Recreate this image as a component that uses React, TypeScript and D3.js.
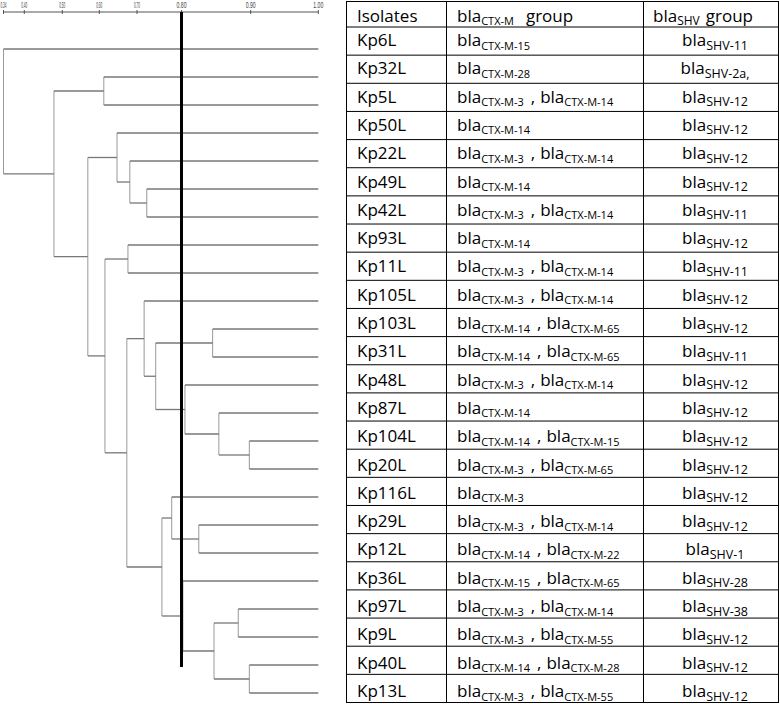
import React from "react";
import * as d3 from "d3";

const isolates = [
  "Kp6L", "Kp32L", "Kp5L", "Kp50L", "Kp22L", "Kp49L", "Kp42L", "Kp93L",
  "Kp11L", "Kp105L", "Kp103L", "Kp31L", "Kp48L", "Kp87L", "Kp104L", "Kp20L",
  "Kp116L", "Kp29L", "Kp12L", "Kp36L", "Kp97L", "Kp9L", "Kp40L", "Kp13L",
];

const ctxGroup: string[][] = [
  ["15"], ["28"], ["3", "14"], ["14"], ["3", "14"], ["14"], ["3", "14"], ["14"],
  ["3", "14"], ["3", "14"], ["14", "65"], ["14", "65"], ["3", "14"], ["14"], ["14", "15"], ["3", "65"],
  ["3"], ["3", "14"], ["14", "22"], ["15", "65"], ["3", "14"], ["3", "55"], ["14", "28"], ["3", "55"],
];

const shvGroup = [
  "11", "2a,", "12", "12", "12", "12", "11", "12",
  "11", "12", "12", "11", "12", "12", "12", "12",
  "12", "12", "1", "28", "38", "12", "12", "12",
];

// [node id, upper child, lower child, similarity coefficient]
const clusterNodes: [string, string, string, number][] = [
  ["root", "Kp6L", "A", 0.34],
  ["A", "B", "C", 0.478],
  ["B", "Kp32L", "Kp5L", 0.612],
  ["C", "D", "H", 0.569],
  ["D", "Kp50L", "E", 0.647],
  ["E", "Kp22L", "F", 0.681],
  ["F", "Kp49L", "Kp42L", 0.722],
  ["H", "G", "I", 0.615],
  ["G", "Kp93L", "Kp11L", 0.676],
  ["I", "J", "P", 0.673],
  ["J", "Kp105L", "K", 0.716],
  ["K", "L", "M", 0.742],
  ["L", "Kp103L", "Kp31L", 0.845],
  ["M", "Kp48L", "N", 0.805],
  ["N", "Kp87L", "O", 0.854],
  ["O", "Kp104L", "Kp20L", 0.898],
  ["P", "Q", "S", 0.756],
  ["Q", "Kp116L", "R", 0.778],
  ["R", "Kp29L", "Kp12L", 0.825],
  ["S", "Kp36L", "T", 0.802],
  ["T", "U", "V", 0.847],
  ["U", "Kp97L", "Kp9L", 0.882],
  ["V", "Kp40L", "Kp13L", 0.898],
];

const axisTicks = [0.34, 0.4, 0.5, 0.6, 0.7, 0.8, 0.9, 1.0];
const axisTickLabels = ["0.34", "0.40", "0.50", "0.60", "0.70", "0.80", "0.90", "1.00"];
const cutOff = 0.8;

const W = 780;
const H = 704;
const FONT = "'Open Sans', 'Noto Sans', sans-serif";
const MAIN = 17;
const SUB = 11;
const SUB_DY = 3.5;

type TNode = { name: string; sim?: number; children?: TNode[] };

function build(id: string): TNode {
  const n = clusterNodes.find((c) => c[0] === id);
  if (!n) return { name: id };
  return { name: id, sim: n[3], children: [build(n[1]), build(n[2])] };
}

function Bla({ x, y, sub, anchor, subSize }: { x: number; y: number; sub: string[]; anchor?: string; subSize?: number }) {
  const parts: React.ReactNode[] = [];
  const ss = subSize || SUB;
  sub.forEach((s, i) => {
    if (i > 0) {
      parts.push(
        <tspan key={"c" + i} dy={-SUB_DY} dx={7} fontSize={MAIN}>
          ,
        </tspan>
      );
      parts.push(
        <tspan key={"b" + i} dx={5} fontSize={MAIN}>
          bla
        </tspan>
      );
    } else {
      parts.push(
        <tspan key={"b" + i} fontSize={MAIN}>
          bla
        </tspan>
      );
    }
    parts.push(
      <tspan key={"s" + i} dy={SUB_DY} fontSize={ss}>
        {s}
      </tspan>
    );
  });
  return (
    <text x={x} y={y} textAnchor={anchor || "start"} fontFamily={FONT} fill="#000">
      {parts}
    </text>
  );
}

export default function App() {
  const xScale = d3
    .scaleLinear()
    .domain(axisTicks)
    .range([3.5, 24.3, 62.3, 99.3, 137, 181.5, 250.7, 318.3]);
  const yLeaf = d3.scalePoint<string>().domain(isolates).range([49, 693]);

  const root = d3.hierarchy<TNode>(build("root"));
  const pos = new Map<any, { x: number; y: number }>();
  root.eachAfter((n) => {
    if (!n.children) {
      pos.set(n, { x: xScale(1), y: yLeaf(n.data.name)! });
    } else {
      const ys = n.children.map((c) => pos.get(c)!.y);
      pos.set(n, { x: xScale(n.data.sim!), y: d3.mean(ys)! });
    }
  });

  const hLines: { x1: number; x2: number; y: number }[] = [];
  const vLines: { x: number; y1: number; y2: number }[] = [];
  root.each((n) => {
    if (!n.children) return;
    const p = pos.get(n)!;
    const cs = n.children.map((c) => pos.get(c)!);
    vLines.push({ x: p.x, y1: cs[0].y, y2: cs[1].y });
    cs.forEach((c) => hLines.push({ x1: p.x, x2: c.x, y: c.y }));
  });

  // table
  const tLeft = 346.5;
  const tRight = 778.5;
  const tTop = 1.5;
  const headBottom = 27;
  const tBottom = 702.5;
  const col1 = 446.5;
  const col2 = 643.5;
  const rows = d3.scaleBand<string>().domain(isolates).range([headBottom, tBottom]);
  const textY = d3.scalePoint<string>().domain(isolates).range([46, 697]);

  return (
    <div style={{ position: "absolute", left: 0, top: 0 }}>
      <svg width={W} height={H} style={{ display: "block", background: "#fff" }}>
        <rect x={0} y={0} width={W} height={H} fill="#fff" />
        {/* axis */}
        <line x1={xScale(0.34)} x2={xScale(1)} y1={12} y2={12} stroke="#555" strokeWidth={1} />
        {axisTicks.map((t, i) => (
          <g key={t}>
            <line x1={xScale(t)} x2={xScale(t)} y1={10} y2={14} stroke="#555" strokeWidth={1} />
            <text
              x={xScale(t)}
              y={8}
              textAnchor="middle"
              fontSize={9}
              fontFamily="'Liberation Sans', sans-serif"
              fill="#444"
              textLength={t < 0.75 ? 6 : 10}
              lengthAdjust="spacingAndGlyphs"
            >
              {axisTickLabels[i]}
            </text>
          </g>
        ))}
        {/* dendrogram */}
        {vLines.map((l, i) => (
          <line key={"v" + i} x1={l.x} x2={l.x} y1={l.y1} y2={l.y2} stroke="#999" strokeWidth={1} />
        ))}
        {hLines.map((l, i) => (
          <line key={"h" + i} x1={l.x1} x2={l.x2} y1={l.y} y2={l.y} stroke="#777" strokeWidth={1.3} />
        ))}
        <line x1={xScale(cutOff)} x2={xScale(cutOff)} y1={12} y2={667} stroke="#000" strokeWidth={3} />

        {/* table */}
        <rect x={tLeft} y={tTop} width={tRight - tLeft} height={tBottom - tTop} fill="none" stroke="#000" strokeWidth={1} />
        <line x1={col1} x2={col1} y1={tTop} y2={tBottom} stroke="#000" strokeWidth={1} />
        <line x1={col2} x2={col2} y1={tTop} y2={tBottom} stroke="#000" strokeWidth={1} />
        <line x1={tLeft} x2={tRight} y1={headBottom} y2={headBottom} stroke="#000" strokeWidth={1} />
        {isolates.map((iso) => (
          <line key={"r" + iso} x1={tLeft} x2={tRight} y1={rows(iso)! + rows.bandwidth()} y2={rows(iso)! + rows.bandwidth()} stroke="#000" strokeWidth={1} />
        ))}
        <text x={357} y={21.5} fontSize={MAIN} fontFamily={FONT}>Isolates</text>
        <text x={457} y={21.5} fontFamily={FONT}>
          <tspan fontSize={MAIN}>bla</tspan>
          <tspan fontSize={SUB} dy={SUB_DY}>CTX-M</tspan>
          <tspan fontSize={MAIN} dy={-SUB_DY} dx={12}>group</tspan>
        </text>
        <text x={653} y={21.5} fontFamily={FONT}>
          <tspan fontSize={MAIN}>bla</tspan>
          <tspan fontSize={12} dy={SUB_DY}>SHV</tspan>
          <tspan fontSize={MAIN} dy={-SUB_DY} dx={6}>group</tspan>
        </text>
        {isolates.map((iso, i) => {
          const ty = textY(iso)!;
          return (
            <g key={"t" + iso}>
              <text x={357} y={ty} fontSize={MAIN} fontFamily={FONT}>{iso}</text>
              <Bla x={457} y={ty} sub={ctxGroup[i].map((g) => "CTX-M-" + g)} />
              <Bla x={715} y={ty} sub={["SHV-" + shvGroup[i]]} anchor="middle" subSize={12.5} />
            </g>
          );
        })}
      </svg>
    </div>
  );
}
